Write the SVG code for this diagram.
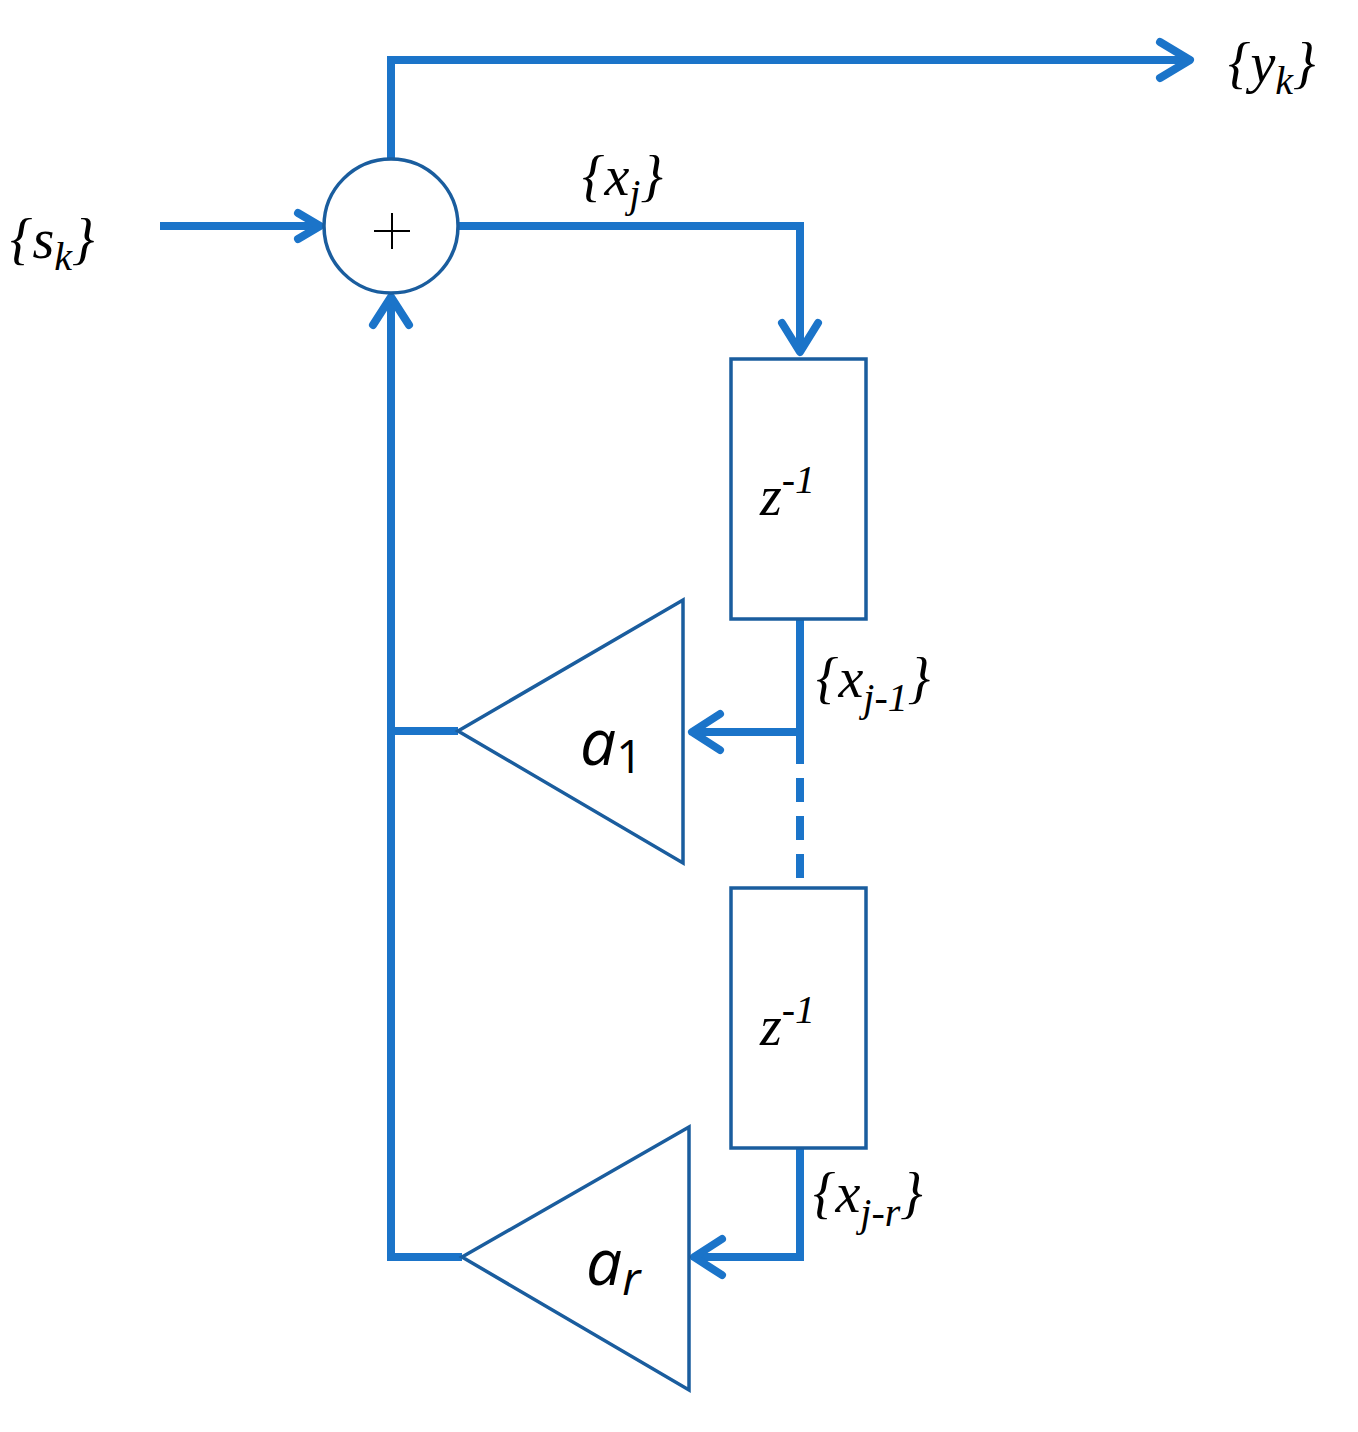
<svg xmlns="http://www.w3.org/2000/svg" width="1358" height="1432" viewBox="0 0 1358 1432">
<style>
.w{fill:none;stroke:#1b74c9;stroke-width:8}
.a{fill:none;stroke:#1b74c9;stroke-width:8;stroke-linecap:round;stroke-linejoin:round}
.b{fill:#fff;stroke:#1a5d9e;stroke-width:3.5}
.t{font-family:"Liberation Serif",serif;font-style:italic;font-size:56px;fill:#000}
.g{font-family:"Open Sans","DejaVu Sans",sans-serif;font-size:64px;fill:#000}
</style>
<rect width="1358" height="1432" fill="#fff"/>
<g id="connectors">
<polyline class="w" points="391,159 391,60 1188,60"/>
<polyline class="a" points="1160,42 1190,60 1160,78"/>
<line class="w" x1="160" y1="226" x2="320" y2="226"/>
<polyline class="a" points="298,213 320,226 298,239"/>
<polyline class="w" points="458,226 800,226 800,352"/>
<polyline class="a" points="782,323 800,352 818,323"/>
<line class="w" x1="800" y1="607" x2="800" y2="740"/>
<line class="w" x1="800" y1="732" x2="692" y2="732"/>
<polyline class="a" points="720,714 692,732 720,750"/>
<line class="w" x1="800" y1="740" x2="800" y2="888" stroke-dasharray="24,14"/>
<polyline class="w" points="800,1148 800,1257 694,1257"/>
<polyline class="a" points="722,1239 694,1257 722,1275"/>
<polyline class="w" points="458,731 391,731"/>
<polyline class="w" points="462,1257 391,1257 391,297"/>
<polyline class="a" points="373,325 391,297 409,325"/>
</g>
<g id="sum"><circle class="b" cx="391" cy="226" r="67" stroke="#1b74c9"/><path d="M374,231H410M392,213V249" stroke="#000" stroke-width="2"/></g>
<g id="delay1"><rect class="b" x="731" y="359" width="135" height="260"/><text class="t" x="760" y="515">z<tspan font-size="40" dy="-22">-1</tspan></text></g>
<g id="delay2"><rect class="b" x="731" y="888" width="135" height="260"/><text class="t" x="760" y="1045">z<tspan font-size="40" dy="-22">-1</tspan></text></g>
<g id="gain1"><polygon class="b" points="683,600 683,863 458,731"/><text class="g" x="580" y="765" font-style="italic">a<tspan font-size="46" font-style="normal" dy="8">1</tspan></text></g>
<g id="gainr"><polygon class="b" points="689,1127 689,1390 462,1257"/><text class="g" x="586" y="1285" font-style="italic">a<tspan font-size="46" dy="10">r</tspan></text></g>
<g id="labels">
<text class="t" x="10" y="258" font-style="normal">{<tspan font-style="italic">s</tspan><tspan font-style="italic" font-size="40" dy="12">k</tspan><tspan dy="-12">}</tspan></text>
<text class="t" x="1228" y="82" font-style="normal">{<tspan font-style="italic">y</tspan><tspan font-style="italic" font-size="40" dy="12">k</tspan><tspan dy="-12">}</tspan></text>
<text class="t" x="582" y="195" font-style="normal">{<tspan font-style="italic">x</tspan><tspan font-style="italic" font-size="40" dy="12">j</tspan><tspan dy="-12">}</tspan></text>
<text class="t" x="816" y="697" font-style="normal">{<tspan font-style="italic">x</tspan><tspan font-style="italic" font-size="40" dy="14">j-1</tspan><tspan dy="-14">}</tspan></text>
<text class="t" x="813" y="1212" font-style="normal">{<tspan font-style="italic">x</tspan><tspan font-style="italic" font-size="40" dy="14">j-r</tspan><tspan dy="-14">}</tspan></text>
</g>
</svg>
